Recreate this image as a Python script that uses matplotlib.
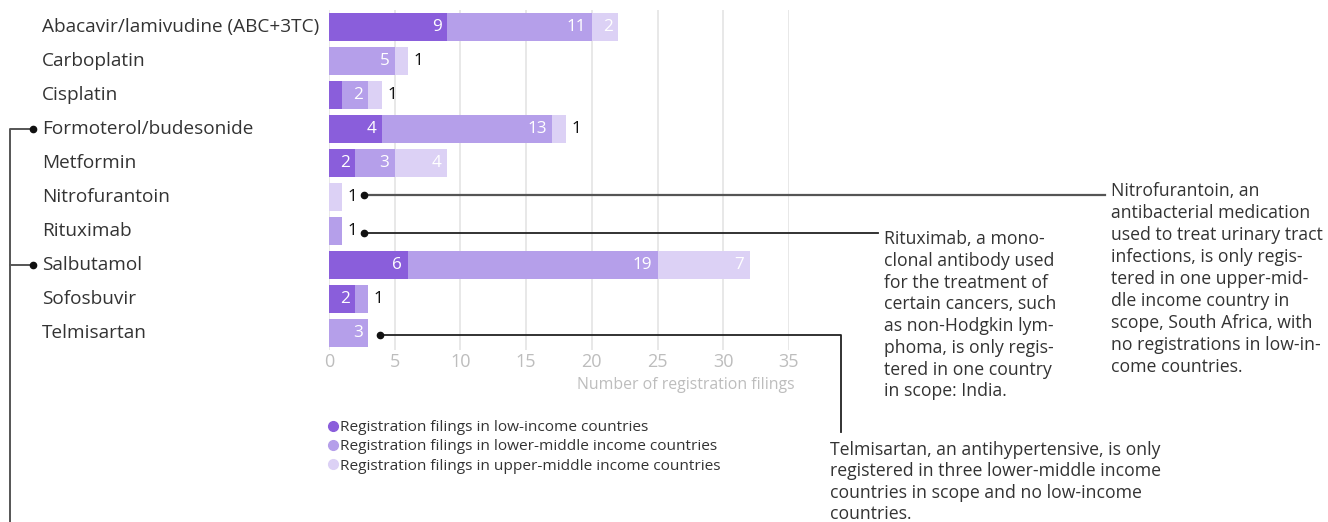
import matplotlib
matplotlib.use("Agg")
import matplotlib.pyplot as plt
import matplotlib.transforms as mtransforms
from matplotlib.lines import Line2D
import numpy as np

plt.rcParams['font.family'] = ['Open Sans', 'DejaVu Sans']

drugs = ["Abacavir/lamivudine (ABC+3TC)", "Carboplatin", "Cisplatin",
         "Formoterol/budesonide", "Metformin", "Nitrofurantoin", "Rituximab",
         "Salbutamol", "Sofosbuvir", "Telmisartan"]
low_income = [9, 0, 1, 4, 2, 0, 0, 6, 2, 0]
lower_middle = [11, 5, 2, 13, 3, 0, 1, 19, 1, 3]
upper_middle = [2, 1, 1, 1, 4, 1, 0, 7, 0, 0]
series_names = ["Registration filings in low-income countries",
                "Registration filings in lower-middle income countries",
                "Registration filings in upper-middle income countries"]
colors = ["#8a5edb", "#b59fea", "#dcd1f5"]
xticks = [0, 5, 10, 15, 20, 25, 30, 35]

W, H = 1328, 522
fig = plt.figure(figsize=(W / 100, H / 100), dpi=100)

def fx(px):
    return px / W

def fy(py):
    return 1 - py / H

ax_left, ax_right, ax_top, ax_bot = 329, 789, 10, 350
ax = fig.add_axes([fx(ax_left), fy(ax_bot), fx(ax_right) - fx(ax_left), fy(ax_top) - fy(ax_bot)])
ax.set_xlim(0, 35)
ax.set_ylim(len(drugs) - 0.5, -0.5)
for s in ax.spines.values():
    s.set_visible(False)
ax.set_xticks(xticks)
ax.set_xticklabels([str(t) for t in xticks], color="#bdbdbd", fontsize=13)
ax.tick_params(axis="x", length=0, pad=2)
ax.grid(axis="x", color="#e8e8e8", linewidth=1.4)
ax.set_axisbelow(True)
ypos = np.arange(len(drugs))
ax.set_yticks(ypos)
ax.set_yticklabels([])
ax.tick_params(axis="y", direction="in", length=2, width=1, color="#555555")

series = [low_income, lower_middle, upper_middle]
left = np.zeros(len(drugs))
for si, (vals, col) in enumerate(zip(series, colors)):
    vals = np.array(vals, dtype=float)
    ax.barh(ypos, vals, left=left, height=0.85, color=col, zorder=2, linewidth=0)
    left = left + vals
left = np.zeros(len(drugs))
totals = np.array(low_income) + np.array(lower_middle) + np.array(upper_middle)
for si, vals in enumerate(series):
    for i, v in enumerate(vals):
        if v == 0:
            continue
        end = left[i] + v
        if v >= 2:
            ax.annotate(str(v), (end, i), xytext=(-4, 0), textcoords="offset points",
                        ha="right", va="center", color="white", fontsize=12.3, zorder=4)
        elif end == totals[i]:
            ax.annotate(str(v), (end, i), xytext=(4, 0), textcoords="offset points",
                        ha="left", va="center", color="#111111", fontsize=12.3, zorder=4)
    left = left + np.array(vals)

# category labels
trans = mtransforms.blended_transform_factory(fig.transFigure, ax.transData)
for i, d in enumerate(drugs):
    ax.text(fx(42), i, d, transform=trans, ha="left", va="center",
            fontsize=13.7, color="#333333")

# x label
fig.text(fx(795), fy(385), "Number of registration filings", ha="right", va="center",
         fontsize=11.4, color="#bdbdbd")

# legend
handles = [Line2D([], [], marker="o", linestyle="none", markersize=7,
                  markerfacecolor=c, markeredgecolor=c) for c in colors]
fig.legend(handles, series_names, loc="upper left", bbox_to_anchor=(fx(328), fy(420)),
           frameon=False, fontsize=11.1, handlelength=0.6, handletextpad=0.2,
           labelspacing=0.28, borderpad=0, borderaxespad=0, labelcolor="#333333")

# annotations
def line_px(xs, ys, color="#222222", lw=1.3):
    fig.add_artist(Line2D([fx(x) for x in xs], [fy(y) for y in ys],
                          transform=fig.transFigure, color=color, lw=lw))

def dot_px(x, y, color="#111111"):
    fig.add_artist(Line2D([fx(x)], [fy(y)], transform=fig.transFigure, marker="o",
                          markersize=4.5, color=color, linestyle="none"))

def data_to_px(x, y):
    dx, dy = ax.transData.transform((x, y))
    return dx, H - dy

fig.canvas.draw()
ann_size = 12.7
# Nitrofurantoin
nx, ny = data_to_px(totals[5] + 1.67, 5)
ny -= 2
line_px([nx, 1105], [ny, ny], color="#555555", lw=1.6)
dot_px(nx, ny)
nitro_txt = ("Nitrofurantoin, an\nantibacterial medication\nused to treat urinary tract\n"
             "infections, is only regis-\ntered in one upper-mid-\ndle income country in\n"
             "scope, South Africa, with\nno registrations in low-in-\ncome countries.")
fig.text(fx(1111), fy(182), nitro_txt, ha="left", va="top", fontsize=ann_size,
         color="#333333", linespacing=1.285)
# Rituximab
rx, ry = data_to_px(totals[6] + 1.67, 6)
ry += 2
line_px([rx, 878], [ry, ry])
dot_px(rx, ry)
ritux_txt = ("Rituximab, a mono-\nclonal antibody used\nfor the treatment of\n"
             "certain cancers, such\nas non-Hodgkin lym-\nphoma, is only regis-\n"
             "tered in one country\nin scope: India.")
fig.text(fx(884), fy(230), ritux_txt, ha="left", va="top", fontsize=ann_size,
         color="#333333", linespacing=1.27)
# Telmisartan
tx, ty = data_to_px(totals[9] + 0.9, 9)
ty += 2
line_px([tx, 841, 841], [ty, ty, 432])
dot_px(tx, ty)
telmi_txt = ("Telmisartan, an antihypertensive, is only\nregistered in three lower-middle income\n"
             "countries in scope and no low-income\ncountries.")
fig.text(fx(830), fy(441), telmi_txt, ha="left", va="top", fontsize=ann_size,
         color="#333333", linespacing=1.24)
# left bracket
_, fy1 = data_to_px(0, 3)
_, fy2 = data_to_px(0, 7)
line_px([33, 10, 10], [fy1, fy1, 530], color="#555555", lw=1.4)
line_px([10, 33], [fy2, fy2], color="#555555", lw=1.4)
dot_px(33, fy1)
dot_px(33, fy2)

fig.savefig("out.png", dpi=100)
